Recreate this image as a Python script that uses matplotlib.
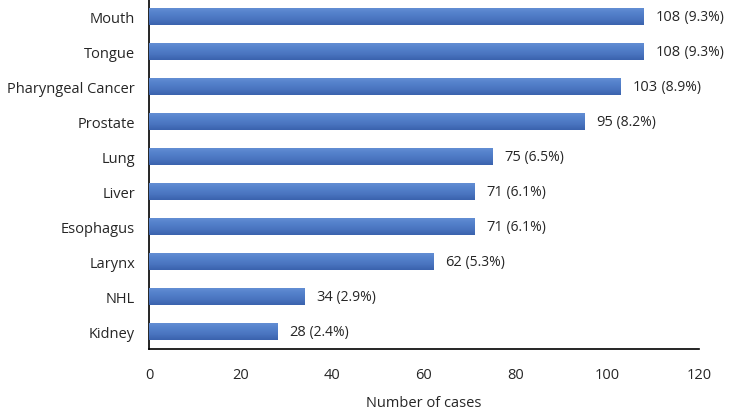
import matplotlib
matplotlib.use("Agg")
import matplotlib.pyplot as plt
import numpy as np
from matplotlib.colors import LinearSegmentedColormap

categories = ["Mouth", "Tongue", "Pharyngeal Cancer", "Prostate", "Lung", "Liver",
              "Esophagus", "Larynx", "NHL", "Kidney"]
cases = [108, 108, 103, 95, 75, 71, 71, 62, 34, 28]
percents = ["9.3%", "9.3%", "8.9%", "8.2%", "6.5%", "6.1%", "6.1%", "5.3%", "2.9%", "2.4%"]
xticks = [0, 20, 40, 60, 80, 100, 120]

plt.rcParams['font.family'] = ['Open Sans', 'DejaVu Sans']

fig = plt.figure(figsize=(7.31, 4.10), dpi=100)
ax = fig.add_axes([0.204, 0.146, 0.752, 0.854])

n = len(categories)
ypos = np.arange(n)[::-1]
bars = ax.barh(ypos, cases, height=0.49, color="#4a72be", zorder=2)

cmap = LinearSegmentedColormap.from_list("g", ["#3a62ad", "#4a75c0", "#5481cb", "#6690d5"])
grad = np.linspace(0, 1, 64).reshape(-1, 1)
for b in bars:
    x0, y0 = b.get_x(), b.get_y()
    w, h = b.get_width(), b.get_height()
    im = ax.imshow(grad, extent=[x0, x0 + w, y0, y0 + h], origin="lower",
                   aspect="auto", cmap=cmap, zorder=3)
    im.set_clip_path(b)

for y, v, p in zip(ypos, cases, percents):
    t = ax.annotate(f"{v}", (v, y), xytext=(8.5, 0), textcoords="offset points",
                    va="center", ha="left", fontsize=10.5, color="#262626")
    ax.annotate(f" ({p})", xy=(1, 0.5), xycoords=t, va="center", ha="left",
                fontsize=10, color="#262626")

ax.set_xlim(0, 120)
ax.set_ylim(-0.5, n - 0.5)
ax.set_xticks(xticks)
ax.set_xticklabels([str(x) for x in xticks], fontsize=10.5, color="#262626")
ax.set_yticks(ypos)
ax.set_yticklabels(categories, fontsize=10.5, color="#262626")
ax.tick_params(axis="both", length=0)
ax.tick_params(axis="x", pad=13)
ax.tick_params(axis="y", pad=10)
ax.set_xlabel("Number of cases", fontsize=10.5, color="#262626", labelpad=9)
for s in ["top", "right"]:
    ax.spines[s].set_visible(False)
for s in ["left", "bottom"]:
    ax.spines[s].set_color("black")
    ax.spines[s].set_linewidth(1.2)

fig.savefig("out.png", dpi=100)
